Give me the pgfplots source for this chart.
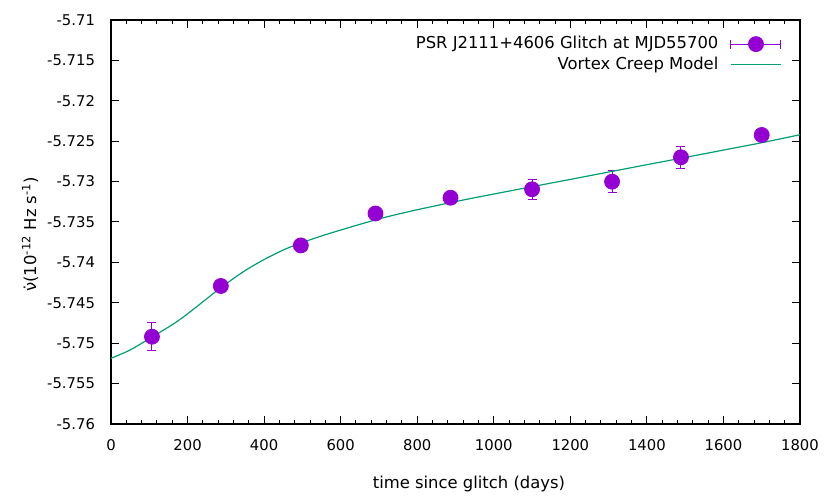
\documentclass[border=0pt]{standalone}
\usepackage{pgfplots}
\pgfplotsset{compat=1.18}
\usepackage{pgfplotstable}
\usepackage{fontspec}
\setmainfont{DejaVu Sans}
\definecolor{pviolet}{HTML}{9400D3}
\definecolor{pgreen}{HTML}{009E73}

\pgfplotstableread{
t v e
107 -5.74920 0.00173
287 -5.74292 0.0005
496 -5.73790 0.0005
691 -5.73395 0.0004
887 -5.73200 0.0005
1100 -5.73095 0.00124
1309 -5.73001 0.00134
1489 -5.72699 0.00136
1700 -5.72423 0.0003
}\pts

\pgfplotstableread{
t v
0 -5.75187
50 -5.75084
106 -5.74927
172 -5.74734
224 -5.74548
285 -5.74320
346 -5.74115
398 -5.73970
450 -5.73847
494 -5.73764
572 -5.73640
694 -5.73470
789 -5.73360
912 -5.73236
1000 -5.73154
1100 -5.73063
1200 -5.72973
1300 -5.72882
1400 -5.72791
1500 -5.72701
1600 -5.72610
1700 -5.72519
1800 -5.72420
}\model

\begin{document}
\begin{tikzpicture}
\begin{axis}[
  name=ax,
  width=344.5pt, height=202pt, scale only axis,
  xmin=0, xmax=1800, ymin=-5.76, ymax=-5.71,
  xtick={0,200,400,600,800,1000,1200,1400,1600,1800},
  xticklabels={0,200,400,600,800,1000,1200,1400,1600,1800},
  minor x tick num=4,
  ytick={-5.76,-5.755,-5.75,-5.745,-5.74,-5.735,-5.73,-5.725,-5.72,-5.715,-5.71},
  yticklabels={-5.76,-5.755,-5.75,-5.745,-5.74,-5.735,-5.73,-5.725,-5.72,-5.715,-5.71},
  tick align=inside,
  major tick length=4pt, minor tick length=2pt,
  every tick/.style={black, line width=0.5pt},
  axis line style={line width=0.6pt},
  tick label style={font=\fontsize{7.4}{9}\selectfont},
  xticklabel style={yshift=-4pt},
  yticklabel style={xshift=-4.5pt},
  every axis x label/.style={at={(axis description cs:0.5195,0)}, anchor=center, yshift=-30pt},
  every axis y label/.style={at={([xshift=-40.5pt]axis description cs:0,0.47)}, rotate=90, anchor=center},
  label style={font=\fontsize{8.2}{10}\selectfont},
  xlabel={time since glitch (days)},
  ylabel={ν̇(10\textsuperscript{-12} Hz s\textsuperscript{-1})},
  legend style={draw=none, fill=none, at={(1,1)}, anchor=north east, xshift=-9pt, yshift=-6pt,
    font=\fontsize{8.2}{10}\selectfont, row sep=-1.5pt, column sep=4pt, inner sep=0pt},
  legend cell align=right,
  legend plot pos=right,
]
\addplot[forget plot, only marks, mark=*, mark size=3.75pt, color=pviolet, fill=pviolet,
  error bars/.cd, y dir=both, y explicit,
  error bar style={color=pviolet, line width=0.5pt},
  error mark options={rotate=90, mark size=2.25pt, line width=0.5pt, color=pviolet},
  ] table[x=t, y=v, y error=e] {\pts};
\addlegendimage{legend image code/.code={
  \draw[pviolet, line width=0.5pt] (0pt,0pt) -- (25pt,0pt);
  \draw[pviolet, line width=0.5pt] (0pt,-2.25pt) -- (0pt,2.25pt) (25pt,-2.25pt) -- (25pt,2.25pt);
  \fill[pviolet] (12.5pt,0pt) circle (3.75pt);}}
\addlegendentry{PSR J2111+4606 Glitch at MJD55700}
\addplot[color=pgreen, line width=0.6pt, smooth,
  legend image code/.code={\draw[pgreen, line width=0.6pt] (0pt,0pt) -- (25pt,0pt);}]
  table[x=t, y=v] {\model};
\addlegendentry{Vortex Creep Model}
\end{axis}
\path ([shift={(-55.5pt,-37pt)}]ax.south west) rectangle ([shift={(15pt,10pt)}]ax.north east);
\end{tikzpicture}
\end{document}
